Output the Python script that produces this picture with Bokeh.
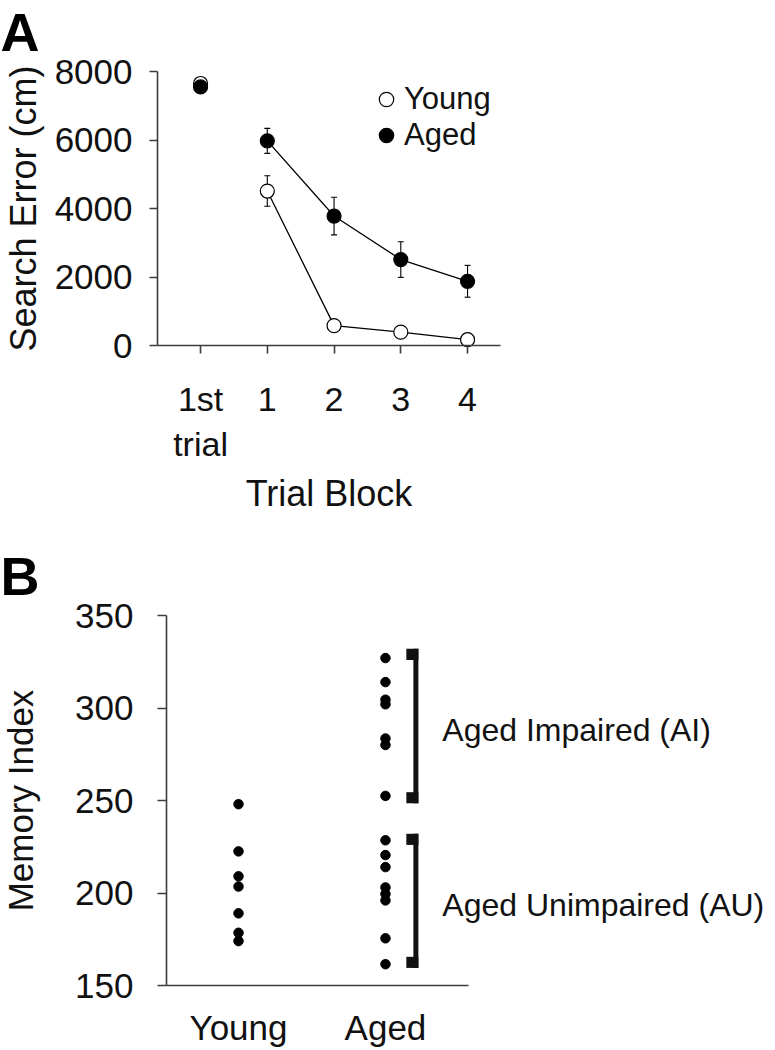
import math
from bokeh.plotting import figure
from bokeh.models import (ColumnDataSource, Whisker, TeeHead, Legend, LegendItem,
                          FixedTicker, Range1d)
from bokeh.layouts import column
from bokeh.embed import file_html
from bokeh.resources import INLINE
from bokeh.core.properties import value

# ---------------- Panel A data ----------------
block_labels = ["1st\ntrial", "1", "2", "3", "4"]
block_pos = [0, 1, 2, 3, 4]
young_mean = [7650, 4510, 580, 390, 170]
young_sem = [60, 445, 100, 90, 70]
aged_mean = [7550, 5975, 3780, 2510, 1875]
aged_sem = [80, 365, 550, 520, 465]
search_ticks = [0, 2000, 4000, 6000, 8000]

# ---------------- Panel B data ----------------
group_labels = ["Young", "Aged"]
group_pos = [1, 2]
young_index = [248, 222.5, 209, 203.5, 189, 178.5, 174]
aged_index = [327, 314, 304.5, 302, 283.5, 280, 252.5,
              228.5, 220.5, 214, 203, 199.5, 196, 175.5, 161.5]
memory_ticks = [150, 200, 250, 300, 350]
bracket_labels = ["Aged Impaired (AI)", "Aged Unimpaired (AU)"]
bracket_top = [332, 232]
bracket_bottom = [248.5, 159.5]

FONT = "Liberation Sans"
AXIS_COLOR = "#3c3c3c"
TEXT_COLOR = "#111111"

W = 775
HA = 523            # canvas height of panel A
HB = 1050 - HA      # canvas height of panel B

# ---- pixel <-> data mapping (layout only) ----
A_X0, A_XPX, A_LEFT = -0.645, 66.75, 157       # x data at axis, px per unit, axis px
A_BOTTOM, A_YPX = 345, 274 / 8000              # px of y=0, px per unit


def a_x(px):
    return A_X0 + (px - A_LEFT) / A_XPX


def a_y(py):
    return (A_BOTTOM - py) / A_YPX


B_X0, B_XPX, B_LEFT = 0.51, 146.96, 166
B_BOTTOM, B_YPX, B_YMIN = 985 - HA, 1.85, 150    # local px of y=150


def b_x(px):
    return B_X0 + (px - B_LEFT) / B_XPX


def b_y(py_local):
    return B_YMIN + (B_BOTTOM - py_local) / B_YPX


def base_fig(h, xr, yr):
    p = figure(frame_width=W, frame_height=h, x_range=xr, y_range=yr,
               min_border=0, output_backend="svg", toolbar_location=None)
    p.xgrid.grid_line_color = None
    p.ygrid.grid_line_color = None
    p.outline_line_color = None
    p.background_fill_color = "white"
    p.border_fill_color = "white"
    for ax in (p.xaxis[0], p.yaxis[0]):
        ax.axis_line_color = AXIS_COLOR
        ax.axis_line_width = 1.6
        ax.major_tick_line_color = AXIS_COLOR
        ax.major_tick_line_width = 1.6
        ax.minor_tick_line_color = None
        ax.major_tick_in = 0
        ax.major_label_text_font = FONT
        ax.major_label_text_color = TEXT_COLOR
        ax.axis_label_text_font = FONT
        ax.axis_label_text_font_style = "normal"
        ax.axis_label_text_color = TEXT_COLOR
    return p


# ================= Panel A =================
pA = base_fig(HA, Range1d(a_x(0), a_x(W)), Range1d(a_y(HA), a_y(0)))

pA.xaxis.fixed_location = 0
pA.xaxis.bounds = (A_X0, 4.5)
pA.xaxis.ticker = FixedTicker(ticks=block_pos)
pA.xaxis.major_label_overrides = {p: l for p, l in zip(block_pos, block_labels)}
pA.xaxis.major_tick_out = 8
pA.xaxis.major_label_standoff = 26
pA.xaxis.major_label_text_font_size = "34px"
pA.xaxis.axis_label = "Trial Block"
pA.xaxis.axis_label_text_font_size = "36px"
pA.xaxis.axis_label_standoff = 7

pA.yaxis.fixed_location = A_X0
pA.yaxis.bounds = (search_ticks[0], search_ticks[-1])
pA.yaxis.ticker = FixedTicker(ticks=search_ticks)
pA.yaxis.major_tick_out = 8
pA.yaxis.major_label_standoff = 17
pA.yaxis.major_label_text_font_size = "35px"
pA.yaxis.axis_label = "Search Error (cm)"
pA.yaxis.axis_label_text_font_size = "36px"
pA.yaxis.axis_label_standoff = 8

srcY = ColumnDataSource(dict(x=block_pos, y=young_mean,
                             upper=[m + s for m, s in zip(young_mean, young_sem)],
                             lower=[m - s for m, s in zip(young_mean, young_sem)]))
srcA = ColumnDataSource(dict(x=block_pos, y=aged_mean,
                             upper=[m + s for m, s in zip(aged_mean, aged_sem)],
                             lower=[m - s for m, s in zip(aged_mean, aged_sem)]))

pA.line(block_pos[1:], young_mean[1:], line_color="black", line_width=1.3)
pA.line(block_pos[1:], aged_mean[1:], line_color="black", line_width=1.3)

for src in (srcY, srcA):
    pA.add_layout(Whisker(source=src, base="x", upper="upper", lower="lower",
                          dimension="height", line_color="black", line_width=1.1,
                          upper_head=TeeHead(size=6, line_color="black", line_width=1.1),
                          lower_head=TeeHead(size=6, line_color="black", line_width=1.1)))

rY = pA.scatter("x", "y", source=srcY, size=14, marker="circle",
                fill_color="white", line_color="black", line_width=1.2)
rA = pA.scatter("x", "y", source=srcA, size=14, marker="circle",
                fill_color="black", line_color="black", line_width=1.2)

legend = Legend(items=[LegendItem(label="Young", renderers=[rY]),
                       LegendItem(label="Aged", renderers=[rA])],
                location=(368, HA - 81 - 72), margin=0, padding=0, spacing=0,
                glyph_width=36, glyph_height=36, label_standoff=0,
                label_text_font=FONT, label_text_font_size="31px",
                label_text_color=TEXT_COLOR,
                background_fill_alpha=0, border_line_color=None)
pA.add_layout(legend)

pA.text(x=[a_x(0)], y=[a_y(1)], text=["A"], text_font=value(FONT),
        text_font_size=value("54px"), text_font_style="bold",
        text_color="black", text_baseline="top", text_align="left")

# ================= Panel B =================
pB = base_fig(HB, Range1d(b_x(0), b_x(W)), Range1d(b_y(HB), b_y(0)))

pB.xaxis.fixed_location = memory_ticks[0]
pB.xaxis.bounds = (B_X0, 2.565)
pB.xaxis.ticker = FixedTicker(ticks=group_pos)
pB.xaxis.major_label_overrides = {p: l for p, l in zip(group_pos, group_labels)}
pB.xaxis.major_tick_out = 0
pB.xaxis.major_label_standoff = 22
pB.xaxis.major_label_text_font_size = "35px"

pB.yaxis.fixed_location = B_X0
pB.yaxis.bounds = (memory_ticks[0], memory_ticks[-1])
pB.yaxis.ticker = FixedTicker(ticks=memory_ticks)
pB.yaxis.major_tick_out = 9
pB.yaxis.major_label_standoff = 24
pB.yaxis.major_label_text_font_size = "35px"
pB.yaxis.axis_label = "Memory Index"
pB.yaxis.axis_label_text_font_size = "35px"
pB.yaxis.axis_label_standoff = 32

pB.scatter([group_pos[0]] * len(young_index), young_index, size=9.5,
           marker="circle", fill_color="black", line_color="black")
pB.scatter([group_pos[1]] * len(aged_index), aged_index, size=9.5,
           marker="circle", fill_color="black", line_color="black")

bx = group_pos[1] + 0.207
n = len(bracket_labels)
pB.quad(left=[bx - 0.017] * n, right=[bx + 0.017] * n,
        top=bracket_top, bottom=bracket_bottom, fill_color="#111111", line_color=None)
pB.quad(left=[bx - 0.065] * n, right=[bx + 0.017] * n,
        top=bracket_top, bottom=[t - 6 for t in bracket_top],
        fill_color="#111111", line_color=None)
pB.quad(left=[bx - 0.065] * n, right=[bx + 0.017] * n,
        top=[b + 6 for b in bracket_bottom], bottom=bracket_bottom,
        fill_color="#111111", line_color=None)

pB.text(x=[bx + 0.18] * n,
        y=[(t + b) / 2 for t, b in zip(bracket_top, bracket_bottom)],
        text=bracket_labels, text_font=value(FONT), text_font_size=value("32px"),
        text_color=TEXT_COLOR, text_baseline="middle", text_align="left",
        y_offset=4)

pB.text(x=[b_x(0)], y=[b_y(575 - HA)], text=["B"], text_font=value(FONT),
        text_font_size=value("54px"), text_font_style="bold",
        text_color="black", text_baseline="alphabetic", text_align="left")

layout = column(pA, pB, spacing=0)
open("out.html", "w").write(file_html(layout, INLINE))
